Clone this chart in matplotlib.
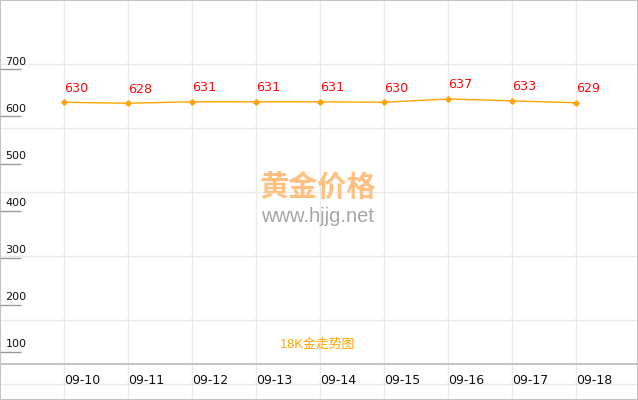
import matplotlib
matplotlib.use("Agg")
import matplotlib.pyplot as plt
import numpy as np

# ---- data ----
dates = ["09-10", "09-11", "09-12", "09-13", "09-14", "09-15", "09-16", "09-17", "09-18"]
prices = [630, 628, 631, 631, 631, 630, 637, 633, 629]
y_ticks = [100, 200, 300, 400, 500, 600, 700]
title = "18K金走势图"
wm_cn = "黄金价格"
wm_url = "www.hjjg.net"

W, H = 638, 400
fig = plt.figure(figsize=(W / 100, H / 100), dpi=100)
fig.patch.set_facecolor("white")

# background pixel grid
bg = fig.add_axes([0, 0, 1, 1])
bg.set_xlim(0, W)
bg.set_ylim(H, 0)
bg.set_xticks(np.arange(64, W, 64))
bg.set_yticks(np.arange(64, H, 64))
bg.grid(True, color="#ebebeb", lw=1)
bg.tick_params(length=0, labelleft=False, labelbottom=False)
for s in bg.spines.values():
    s.set_color("#c4c4c4")
    s.set_linewidth(1.5)
bg.axhline(364, color="#b8b8b8", lw=1.2)
bg.set_axisbelow(True)

# data axes
ax = fig.add_axes([0, 0, 1, 1])
ax.patch.set_alpha(0)
ax.set_xlim(-1, W / 64 - 1)
ax.set_ylim(-1.9, 847.1)
ax.axis("off")

x = np.arange(len(dates))
ax.plot(x, prices, color="#FFA500", lw=1.0, marker="D", ms=2.8, zorder=3)
for xi, p in zip(x, prices):
    ax.annotate(str(p), (xi, p), xytext=(0, 7.6), textcoords="offset points",
                ha="left", va="baseline", color="#ff0a0a", fontsize=9.2,
                family="DejaVu Sans")

xt = ax.get_xaxis_transform()
for xi, d in zip(x, dates):
    ax.text(xi, 0.05, d, transform=xt, ha="left", va="center", fontsize=9,
            color="#111111", family="DejaVu Sans")

yt = ax.get_yaxis_transform()
ax.hlines(y_ticks, 0, 21 / W, transform=yt, color="#999999", lw=1)
for v in y_ticks:
    ax.annotate(str(v), (5.5 / W, v), xycoords=yt, xytext=(0, 3.4),
                textcoords="offset points", ha="left", va="baseline",
                fontsize=8, color="#111111", family="DejaVu Sans")

# watermark and title
fig.text(318 / W, 1 - 187 / H, wm_cn, ha="center", va="center", fontsize=21,
         color="#FFC080", fontweight="bold", family=["Noto Sans CJK SC"])
fig.text(318 / W, 1 - 216 / H, wm_url, ha="center", va="center", fontsize=14.5,
         color="#a6a6a6", family=["Liberation Sans"])
fig.text(317.5 / W, 1 - 345 / H, title, ha="center", va="center", fontsize=9.3,
         color="#FFA500", family=["Liberation Sans", "Noto Sans CJK SC"])

fig.savefig("out.png", dpi=100)
